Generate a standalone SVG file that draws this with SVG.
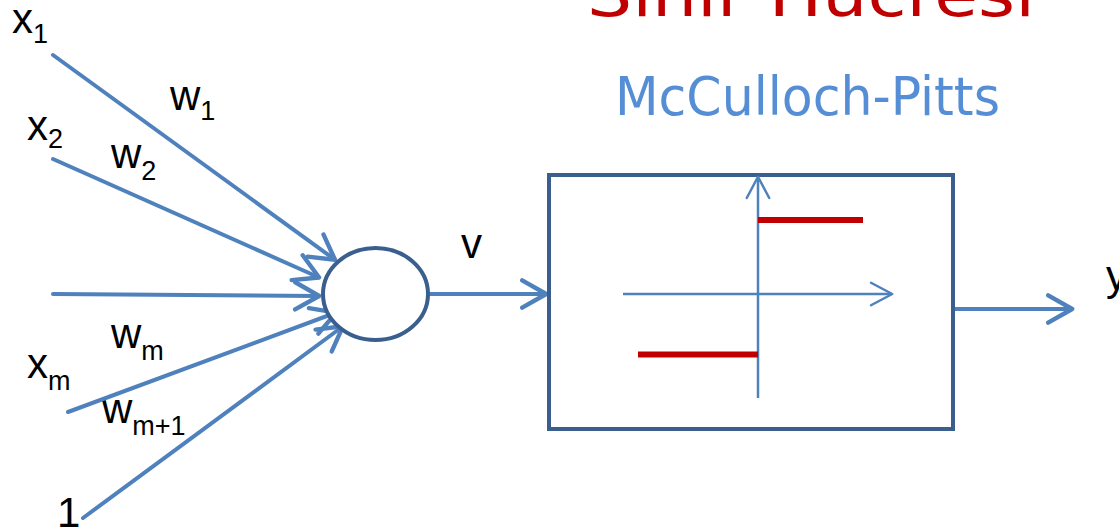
<svg xmlns="http://www.w3.org/2000/svg" width="1119" height="531" viewBox="0 0 1119 531">
<defs>
<style>
.lbl{font-family:"Liberation Sans","DejaVu Sans",sans-serif;fill:#000;}
.big{font-size:42px;}
.sub{font-size:27px;}
.conn{stroke:#4F81BD;stroke-width:4;fill:none;stroke-linecap:round;}
.axis{stroke:#4F81BD;stroke-width:2.5;fill:none;}
.step{stroke:#C00000;stroke-width:6;fill:none;}
.title{font-family:"Comic Sans MS","DejaVu Sans",sans-serif;}
</style>
<marker id="ah" markerWidth="8" markerHeight="8" refX="6.5" refY="4" orient="auto" markerUnits="strokeWidth" viewBox="0 0 8 8">
<path d="M0.8,0.6 L6.8,4 L0.8,7.4" fill="none" stroke="#4F81BD" stroke-width="1.1" stroke-linecap="round" stroke-linejoin="round"/>
</marker>
<marker id="ah2" markerWidth="12" markerHeight="12" refX="9" refY="6" orient="auto" markerUnits="strokeWidth" viewBox="0 0 12 12">
<path d="M1,1.5 L9.5,6 L1,10.5" fill="none" stroke="#4F81BD" stroke-width="1" stroke-linecap="round" stroke-linejoin="round"/>
</marker>
</defs>
<rect width="1119" height="531" fill="#fff"/>

<g id="title">
<text class="title" x="587" y="16" font-size="60" fill="#C00000" textLength="448" lengthAdjust="spacingAndGlyphs">Sinir Hücresi</text>
<text class="title" x="615" y="115" font-size="54" fill="#558ED5" textLength="385" lengthAdjust="spacingAndGlyphs">McCulloch-Pitts</text>
</g>

<g id="labels">
<text class="lbl big" x="12" y="33">x<tspan class="sub" dy="10">1</tspan></text>
<text class="lbl big" x="27" y="140">x<tspan class="sub" dy="8">2</tspan></text>
<text class="lbl big" x="27" y="378">x<tspan class="sub" dy="12">m</tspan></text>
<text class="lbl big" x="57" y="527">1</text>
<text class="lbl big" x="170" y="110">w<tspan class="sub" dy="10">1</tspan></text>
<text class="lbl big" x="111" y="168">w<tspan class="sub" dy="12">2</tspan></text>
<text class="lbl big" x="111" y="348">w<tspan class="sub" dy="12">m</tspan></text>
<text class="lbl big" x="102" y="423">w<tspan class="sub" dy="12">m+1</tspan></text>
<text class="lbl big" x="461" y="258">v</text>
<text class="lbl big" x="1106" y="290">y</text>
</g>

<g id="connectors">
<line class="conn" x1="53" y1="55" x2="334" y2="259" marker-end="url(#ah)"/>
<line class="conn" x1="53" y1="159" x2="318" y2="277" marker-end="url(#ah)"/>
<line class="conn" x1="53" y1="294" x2="318" y2="296" marker-end="url(#ah)"/>
<line class="conn" x1="68" y1="412" x2="335" y2="313" marker-end="url(#ah)"/>
<line class="conn" x1="83" y1="518" x2="342" y2="327" marker-end="url(#ah)"/>
<line class="conn" x1="429" y1="294" x2="545" y2="294" marker-end="url(#ah)"/>
<line class="conn" x1="955" y1="309" x2="1071" y2="309" marker-end="url(#ah)"/>
</g>

<g id="neuron">
<ellipse cx="375.5" cy="294" rx="52.5" ry="46" fill="#fff" stroke="#3A5F8E" stroke-width="4"/>
</g>

<g id="activation">
<rect x="549" y="175" width="404" height="254" fill="#fff" stroke="#3A5F8E" stroke-width="4"/>
<line class="axis" x1="758" y1="398" x2="758" y2="178" marker-end="url(#ah2)"/>
<line class="axis" x1="623" y1="294" x2="891" y2="294" marker-end="url(#ah2)"/>
<line class="step" x1="758" y1="220" x2="863" y2="220"/>
<line class="step" x1="638" y1="354.5" x2="758" y2="354.5"/>
</g>
</svg>
